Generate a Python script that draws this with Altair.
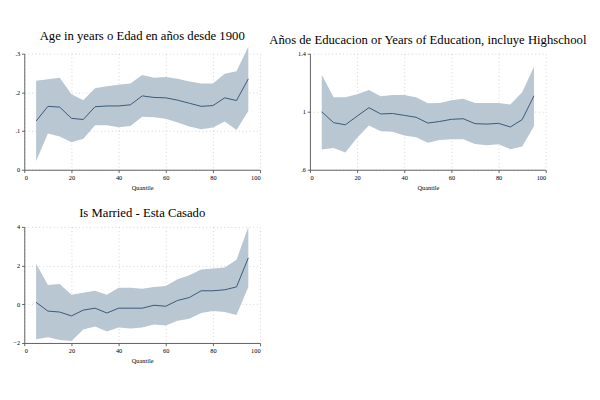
import pandas as pd
import altair as alt

quantile = [5, 10, 15, 20, 25, 30, 35, 40, 45, 50, 55, 60, 65, 70, 75, 80, 85, 90, 95]

age_coef = [0.126, 0.164, 0.162, 0.133, 0.130, 0.163, 0.165, 0.165, 0.168, 0.191, 0.187, 0.186, 0.180, 0.172, 0.164, 0.166, 0.186, 0.179, 0.235]
age_hi = [0.230, 0.234, 0.238, 0.195, 0.180, 0.211, 0.216, 0.220, 0.223, 0.245, 0.238, 0.240, 0.235, 0.228, 0.223, 0.223, 0.248, 0.255, 0.318]
age_lo = [0.023, 0.094, 0.086, 0.071, 0.080, 0.115, 0.115, 0.110, 0.113, 0.137, 0.136, 0.132, 0.122, 0.112, 0.105, 0.109, 0.125, 0.103, 0.152]

edu_coef = [1.00, 0.925, 0.91, 0.97, 1.028, 0.985, 0.988, 0.975, 0.962, 0.922, 0.933, 0.948, 0.952, 0.918, 0.915, 0.92, 0.895, 0.946, 1.11]
edu_hi = [1.255, 1.10, 1.10, 1.12, 1.15, 1.107, 1.115, 1.115, 1.10, 1.058, 1.06, 1.08, 1.09, 1.06, 1.06, 1.06, 1.05, 1.135, 1.31]
edu_lo = [0.74, 0.75, 0.72, 0.82, 0.905, 0.865, 0.862, 0.837, 0.825, 0.787, 0.805, 0.81, 0.81, 0.778, 0.77, 0.776, 0.742, 0.76, 0.90]

mar_coef = [0.1, -0.35, -0.4, -0.6, -0.3, -0.2, -0.45, -0.2, -0.2, -0.2, -0.05, -0.1, 0.2, 0.35, 0.7, 0.7, 0.75, 0.9, 2.4]
mar_hi = [2.1, 1.0, 1.05, 0.5, 0.6, 0.7, 0.5, 0.85, 0.85, 0.8, 0.9, 0.95, 1.3, 1.5, 1.8, 1.85, 1.9, 2.3, 4.0]
mar_lo = [-1.8, -1.7, -1.85, -1.9, -1.3, -1.15, -1.4, -1.2, -1.25, -1.2, -1.05, -1.1, -0.85, -0.75, -0.45, -0.35, -0.4, -0.55, 0.9]

FONT = "Liberation Serif"
# Stata-style labels: ".2" instead of "0.2"
LABEL = "replace(format(datum.value, '~g'), /^0\\./, '.')"


def panel(title, coef, lo, hi, ydom, yticks):
    df = pd.DataFrame({'q': quantile, 'coef': coef, 'lo': lo, 'hi': hi})
    base = alt.Chart(df).encode(
        x=alt.X('q:Q', title='Quantile', scale=alt.Scale(domain=[0, 100]),
                axis=alt.Axis(values=[0, 20, 40, 60, 80, 100], grid=True, gridDash=[1, 3],
                              gridColor='#cccccc', tickSize=3, labelFontSize=7, titleFontSize=7,
                              titleFontWeight='normal', labelFont=FONT, titleFont=FONT,
                              domainColor='#555', tickColor='#555'))
    )
    band = base.mark_area(color='#b9c7d3', opacity=1).encode(
        y=alt.Y('lo:Q', title=None, scale=alt.Scale(domain=ydom, nice=False),
                axis=alt.Axis(values=yticks, labelExpr=LABEL, labelOverlap=False, grid=True,
                              gridDash=[1, 3], gridColor='#cccccc', tickSize=3, labelFontSize=7,
                              labelFont=FONT, domainColor='#555', tickColor='#555')),
        y2='hi:Q')
    line = base.mark_line(color='#2e4f6e', strokeWidth=1).encode(y='coef:Q')
    return (band + line).properties(
        width=260, height=128,
        title=alt.TitleParams(title, font=FONT, fontSize=14, fontWeight='normal', anchor='middle', limit=0))


p1 = panel('Age in years o Edad en años desde 1900', age_coef, age_lo, age_hi, [0, 0.3], [0, 0.1, 0.2, 0.3])
p2 = panel('Años de Educacion or Years of Education, incluye Highschool', edu_coef, edu_lo, edu_hi, [0.6, 1.4], [0.6, 0.8, 1.0, 1.2, 1.4])
p3 = panel('Is Married - Esta Casado', mar_coef, mar_lo, mar_hi, [-2, 4], [-2, 0, 2, 4])

chart = alt.vconcat(alt.hconcat(p1, p2, spacing=8), p3, spacing=18).configure_view(
    stroke=None).configure_axis(labelPadding=2)

chart.save("out.html", embed_options={"renderer": "svg", "actions": False})
